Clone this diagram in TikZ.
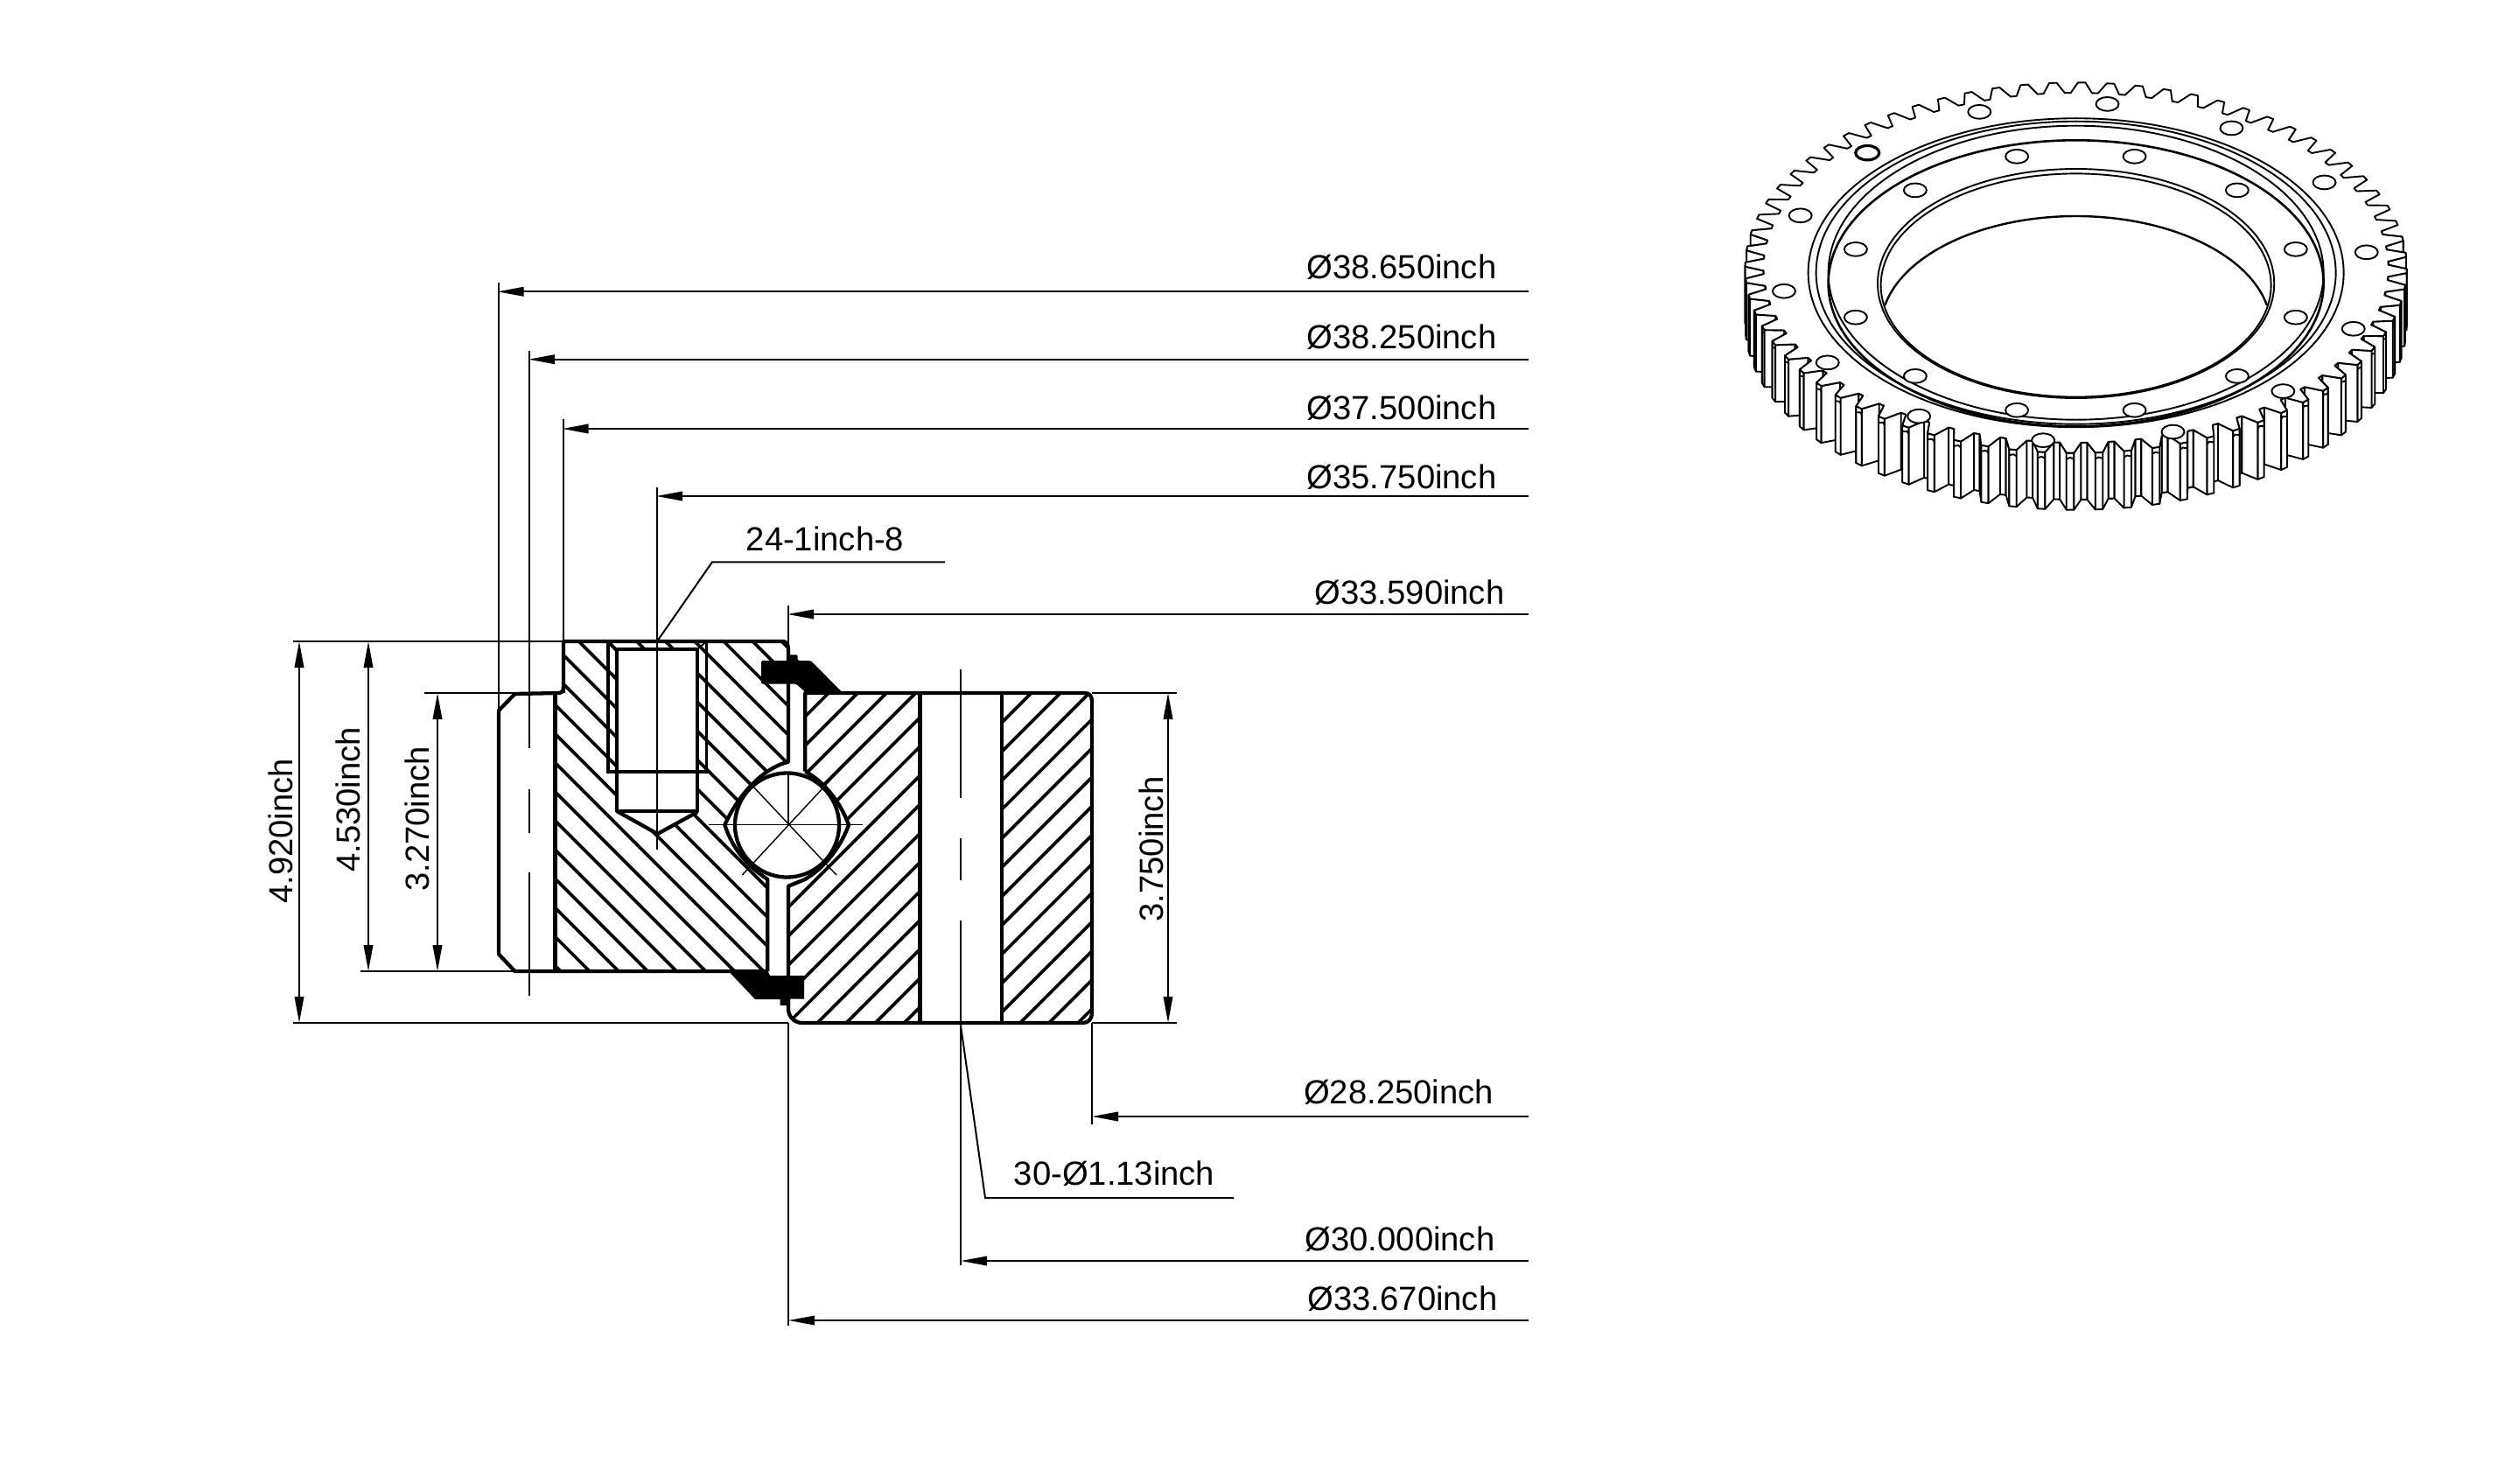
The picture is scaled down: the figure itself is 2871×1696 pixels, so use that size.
\documentclass[tikz,border=0pt]{standalone}
\usepackage{fontspec}
\setmainfont{Liberation Sans}
\usetikzlibrary{arrows.meta}
\tikzset{
  thickl/.style={line width=4.3pt,line join=round},
  hatchl/.style={line width=3.7pt},
  thinl/.style={line width=2pt},
  finel/.style={line width=1.4pt},
  dimen/.style={line width=2pt,-{Triangle[length=30pt,width=10.5pt]}},
  dimenb/.style={line width=2pt,{Triangle[length=30pt,width=10.5pt]}-{Triangle[length=30pt,width=10.5pt]}},
  lab/.style={inner sep=0pt,font=\fontsize{38.2}{40}\selectfont},
  gearl/.style={line width=1.9pt,line join=round},
  hole/.style={line width=1.9pt,fill=white}
}
\newcommand\gpt[2]{({2372.6+(#1)*cos(#2)},{306-0.56*(#1)*sin(#2)})}
\newcommand\gpd[2]{({2372.6+(#1)*cos(#2)},{371-0.56*(#1)*sin(#2)})}
\newcommand\gpc[2]{({2372.6+(#1)*cos(#2)},{313-0.56*(#1)*sin(#2)})}
\newcommand\gseg[4]{\draw[gearl,fill=white] \gpt{#1}{#2} -- \gpt{#3}{#4} -- \gpd{#3}{#4} -- \gpd{#1}{#2} -- cycle;}
\newcommand\gtip[1]{\draw[gearl] \gpc{\Rt}{#1-0.65} -- \gpc{\Rt-3}{#1} -- \gpc{\Rt}{#1+0.65};}
\def\Rr{357}
\def\Rt{378}
\begin{document}
\begin{tikzpicture}[x=1pt,y=-1pt]
\useasboundingbox (0,0) rectangle (2871,1696);
\fill[white] (0,0) rectangle (2871,1696);

%% ---- hatching, left ring
\begin{scope}
\clip (644,733) -- (895,733) .. controls (899,733) and (901,737) .. (901,742) -- (901,870.7)
  .. controls (878,876) and (848,900) .. (828.3,942.7)
  .. controls (838,972) and (855,990) .. (877.3,1005)
  -- (877.3,1110) -- (634.5,1110) -- (634.5,792) -- (644,792) -- cycle;
\foreach \k in {-10,...,11} {
  \draw[hatchl] ({600},{171+33.14*\k+600}) -- ({950},{171+33.14*\k+950});
}
\end{scope}
%% ---- hatching, right ring
\begin{scope}
\clip (920.3,792) -- (1240,792) .. controls (1245,792) and (1248,796) .. (1248,801) -- (1248,1158)
  .. controls (1248,1164) and (1244,1169) .. (1238,1169) -- (917,1169)
  .. controls (908,1169) and (901,1162) .. (901,1153) -- (901,1012.7)
  -- (920,1005)
  .. controls (945,990) and (962,965) .. (970,942.7)
  .. controls (960,915) and (940,892) .. (920.3,881.7) -- cycle;
\foreach \k in {-7,...,19} {
  \draw[hatchl] ({880},{1871.5+33.1*\k-880}) -- ({1270},{1871.5+33.1*\k-1270});
}
\end{scope}
%% white openings
\fill[white] (1051.5,792) rectangle (1145,1169);
\fill[white] (705,742) -- (797,742) -- (797,928) -- (751.5,953) -- (705,927) -- cycle;

%% ---- outlines
\draw[thickl] (644,792) -- (644,733) -- (895,733) .. controls (899,733) and (901,737) .. (901,742) -- (901,870.7)
  .. controls (878,876) and (848,900) .. (828.3,942.7)
  .. controls (838,972) and (855,990) .. (877.3,1005)
  -- (877.3,1110);
\draw[thickl] (644,785) .. controls (644,790) and (642,792) .. (638,792) -- (588.5,793) -- (570,812) -- (570,1090.5) -- (588.5,1110) -- (877.3,1110);
\draw[thickl] (634.5,792) -- (634.5,1110);
\draw[thickl] (920.3,881.7) -- (920.3,792) -- (1240,792) .. controls (1245,792) and (1248,796) .. (1248,801) -- (1248,1158)
  .. controls (1248,1164) and (1244,1169) .. (1238,1169) -- (917,1169)
  .. controls (908,1169) and (901,1162) .. (901,1153) -- (901,1012.7)
  -- (920,1005)
  .. controls (945,990) and (962,965) .. (970,942.7)
  .. controls (960,915) and (940,892) .. (920.3,881.7);
\draw[thickl] (1051.5,792) -- (1051.5,1169) (1145,792) -- (1145,1169);
%% bolt hole
\draw[line width=3.2pt] (695,733) -- (695,882) -- (807.5,882) -- (807.5,733);
\draw[thickl] (705,742) -- (797,742) -- (797,927) -- (705,927) -- cycle;
\draw[thickl] (705,927) -- (751.5,953) -- (797,928);
\draw[line width=2pt] (695,733) -- (705,742) (807.5,733) -- (797,742);
%% ball
\draw[thickl,fill=white] (899.5,943) circle [radius=59.5pt];
\draw[finel] (810,942.7) -- (986,942.7);
\draw[finel] (848.3,1000) -- (963.3,876);
\draw[finel] (956,1000) -- (860,898);
\draw[finel] (901,883) -- (901,942.7);
%% seals
\fill[rounded corners=1.5pt] (870,755) -- (901,755) -- (901,748.3) -- (911.7,748.3) -- (911.7,755) -- (926.7,755) -- (963.3,792) -- (921.7,792) -- (910,781.7) -- (870,781.7) -- cycle;
\fill (831.7,1109) -- (877,1109) -- (880,1115) -- (919,1115) -- (919,1141.7) -- (903,1141.7) -- (903,1149) -- (891.7,1149) -- (891.7,1142) -- (863,1142) -- cycle;

%% ---- extension and centre lines
\draw[thinl] (569.5,323) -- (569.5,812);
\draw[thinl] (605,401) -- (605,855) (605,902) -- (605,952) (605,997) -- (605,1138);
\draw[thinl] (643.5,479.3) -- (643.5,733);
\draw[thinl] (751,556.7) -- (751,971);
\draw[thinl] (901,691.7) -- (901,745);
\draw[thinl] (901,1169) -- (901,1515);
\draw[thinl] (1098.3,765) -- (1098.3,911.7) (1098.3,958) -- (1098.3,1006) (1098.3,1052) -- (1098.3,1446);
\draw[thinl] (1248,1169) -- (1248,1285);
\draw[thinl] (335,733) -- (644,733);
\draw[thinl] (335,1169) -- (901,1169);
\draw[thinl] (412,1110) -- (588,1110);
\draw[thinl] (485,792) -- (588,792);
\draw[thinl] (1248,792) -- (1345,792) (1248,1169) -- (1345,1169);

%% ---- dimension lines
\coordinate (e1) at (568.5,333.3);  \draw[dimen] (1747,333.3) -- (e1);
\coordinate (e2) at (604,410.7);    \draw[dimen] (1747,410.7) -- (e2);
\coordinate (e3) at (642.5,490);    \draw[dimen] (1747,490) -- (e3);
\coordinate (e4) at (750,567);      \draw[dimen] (1747,567) -- (e4);
\coordinate (e5) at (900,702);      \draw[dimen] (1747,702) -- (e5);
\coordinate (e6) at (1248,1276);    \draw[dimen] (1747,1276) -- (e6);
\coordinate (e7) at (1098,1441);    \draw[dimen] (1747,1441) -- (e7);
\coordinate (e8) at (901,1509);     \draw[dimen] (1747,1509) -- (e8);
\draw[dimenb] (342,733) -- (342,1169);
\draw[dimenb] (421,733) -- (421,1110);
\draw[dimenb] (500,792) -- (500,1110);
\draw[dimenb] (1335,792) -- (1335,1169);
%% leaders
\draw[thinl] (751,733) -- (814,642.3) -- (1080,642.3);
\draw[thinl] (1098,1172) -- (1126,1369) -- (1410,1369);

%% ---- labels
\node[lab] (d1) at (1602,305.5) {Ø38.650inch};
\node[lab] (d2) at (1602,385.5) {Ø38.250inch};
\node[lab] (d3) at (1602,466) {Ø37.500inch};
\node[lab] (d4) at (1602,545) {Ø35.750inch};
\node[lab] (d5) at (1611,677) {Ø33.590inch};
\node[lab] (d6) at (1598.5,1248) {Ø28.250inch};
\node[lab] (d7) at (1600,1416.5) {Ø30.000inch};
\node[lab] (d8) at (1603,1484.5) {Ø33.670inch};
\node[lab] (l1) at (943,616) {24-1inch-8};
\node[lab] (l2) at (1273.5,1341) {30-Ø1.13inch};
\node[lab,rotate=90] (v1) at (320.5,950) {4.920inch};
\node[lab,rotate=90] (v2) at (397.5,914) {4.530inch};
\node[lab,rotate=90] (v3) at (476.5,936) {3.270inch};
\node[lab,rotate=90] (v4) at (1315.5,970.5) {3.750inch};

%% ---- gear: side walls, back to front
\foreach \i in {16,...,36} {
  \pgfmathsetmacro\a{89+5*\i}
  \gseg{\Rr}{\a-1.95}{\Rt}{\a-0.65}
  \gseg{\Rt}{\a-0.65}{\Rt}{\a+0.65}
  \gtip{\a}
  \gseg{\Rt}{\a+0.65}{\Rr}{\a+1.95}
  \gseg{\Rr}{\a+1.95}{\Rr}{\a+3.05}
}
\foreach \i in {56,55,...,37} {
  \pgfmathsetmacro\a{89+5*\i}
  \gseg{\Rr}{\a+1.95}{\Rr}{\a+3.05}
  \gseg{\Rt}{\a+0.65}{\Rr}{\a+1.95}
  \gseg{\Rt}{\a-0.65}{\Rt}{\a+0.65}
  \gtip{\a}
  \gseg{\Rr}{\a-1.95}{\Rt}{\a-0.65}
  \gseg{\Rr}{\a-3.05}{\Rr}{\a-1.95}
}
%% gear: top face
\draw[gearl,fill=white] \gpt{\Rr}{87.05}
  \foreach \i in {0,...,71} {
    -- \gpt{\Rt}{88.35+5*\i} -- \gpt{\Rt}{89.65+5*\i} -- \gpt{\Rr}{90.95+5*\i} -- \gpt{\Rr}{92.05+5*\i}
  } -- cycle;
%% ring ellipses
\draw[gearl] (2372.6,311.7) ellipse [x radius=306pt,y radius=176.5pt];
\draw[gearl] (2372.6,311.7) ellipse [x radius=297pt,y radius=173pt];
\draw[gearl] (2372.6,311.7) ellipse [x radius=283pt,y radius=168pt];
\draw[line width=2.6pt] (2372.6,323.8) ellipse [x radius=283pt,y radius=163.5pt];
\draw[gearl] (2372.6,324) ellipse [x radius=226.6pt,y radius=131pt];
\draw[gearl] (2372.6,326) ellipse [x radius=223pt,y radius=127.6pt];
\draw[line width=2.4pt] plot[domain=11.7:168.3,samples=50,smooth] ({2372.6+223*cos(\x)},{375-128*sin(\x)});
%% bolt holes
\foreach \zx/\zy in {607/316,858/316,1077/428,1202/624,1202/850,1077/1045,858/1158,607/1158,390/1045,263/850,263/624,390/428,
  800/142,527/168,1065/222,1263/402,145/512,1353/634,110/763,1325/888,203/1000,1175/1095,398/1178,940/1230,663/1258} {
  \draw[hole] ({1980+\zx/1.867},{70+\zy/2.904}) ellipse [x radius=13pt,y radius=7.9pt];
}
\draw[line width=3.2pt,fill=white] ({1980+288/1.867},{70+304/2.904}) ellipse [x radius=13.5pt,y radius=8.2pt];
\end{tikzpicture}
\end{document}
